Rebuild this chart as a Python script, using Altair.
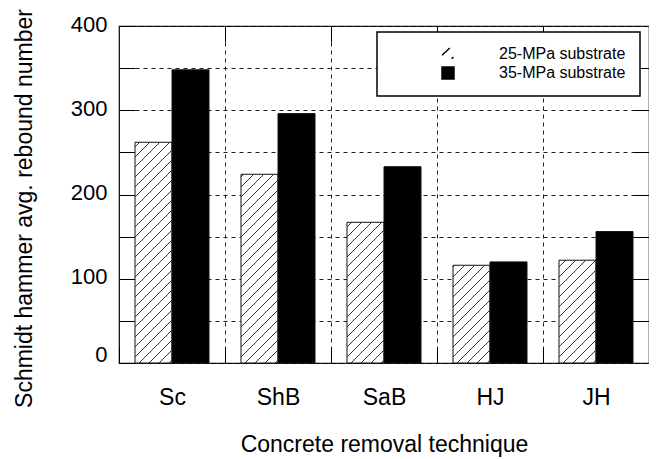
import altair as alt
import pandas as pd

categories = ["Sc", "ShB", "SaB", "HJ", "JH"]
series_names = ["25-MPa substrate", "35-MPa substrate"]
values_25 = [262, 224, 167, 116, 122]
values_35 = [348, 296, 233, 120, 156]
y_tick_values = [0, 50, 100, 150, 200, 250, 300, 350, 400]
inner_y_ticks = [50, 100, 150, 200, 250, 300, 350]
boundary_ticks = [1, 2, 3, 4]

# layout / style constants
W, H = 530, 337
Y_MAX = 400
P_OUT = 16 / 37
HATCH_SP = 10
FONT = "Liberation Sans"
HATCH_PATH = "M-1,0.2L0.3,-1M0.6,0.8L0.9,0.5"

rows = []
for i, c in enumerate(categories):
    rows.append({"cat": c, "series": series_names[0], "value": values_25[i]})
    rows.append({"cat": c, "series": series_names[1], "value": values_35[i]})
df = pd.DataFrame(rows)

# hatch segments for the 25-MPa bars, derived from their values
band_px = W / len(categories)
step_px = band_px / (2 + 2 * P_OUT)
px_per_y = H / Y_MAX
hatch = []
for i, v in enumerate(values_25):
    L = i * band_px + P_OUT * step_px
    R = L + step_px
    h = v * px_per_y
    c = -(R - L) + 3
    while c < h:
        xs = max(L, L - c)
        xe = min(R, L + h - c)
        if xe - xs > 0.5:
            hatch.append({
                "x": xs / band_px, "x2": xe / band_px,
                "y": (xs - L + c) / px_per_y, "y2": (xe - L + c) / px_per_y,
            })
        c += HATCH_SP
hatch_df = pd.DataFrame(hatch)

legend = alt.Legend(
    title=None, orient="none", legendX=258, legendY=6,
    fillColor="white", strokeColor="black",
    padding=14, rowPadding=2,
    symbolOffset=49, labelOffset=43,
    labelFont=FONT, labelFontSize=16, labelColor="black",
    symbolSize=144, symbolOpacity=1, symbolStrokeWidth=1.5,
)
fill_scale = alt.Scale(domain=series_names, range=["white", "black"])
stroke_scale = alt.Scale(domain=series_names, range=["black", "black"])
y_scale = alt.Scale(domain=[0, Y_MAX], nice=False, zero=True)

bars = alt.Chart(df).mark_bar(stroke="#111", strokeWidth=1).encode(
    x=alt.X("cat:N", sort=categories,
            scale=alt.Scale(paddingInner=0, paddingOuter=0),
            axis=alt.Axis(orient="bottom", title="Concrete removal technique",
                          labelAngle=0, tickBand="extent", offset=-16, tickSize=16,
                          tickColor="black", domain=False, grid=True,
                          gridDash=[4, 4], gridColor="#222", gridWidth=1,
                          labelFont=FONT, labelFontSize=23, labelColor="black",
                          labelPadding=23, titleFont=FONT, titleFontSize=23,
                          titleFontWeight="normal", titleColor="black",
                          titlePadding=24)),
    xOffset=alt.XOffset("series:N", sort=series_names,
                        scale=alt.Scale(paddingOuter=P_OUT, paddingInner=0)),
    y=alt.Y("value:Q", scale=y_scale,
            axis=alt.Axis(orient="left", values=y_tick_values,
                          labelExpr="datum.value % 100 == 0 ? datum.label : ''",
                          labelOffset={"condition": {"test": "datum.value == 0", "value": -9},
                                       "value": -2},
                          offset=-16, tickSize=16, tickColor="black",
                          domain=False, grid=True, gridDash=[4, 4],
                          gridColor="#222", gridWidth=1,
                          labelFont=FONT, labelFontSize=22, labelColor="black",
                          labelPadding=12,
                          title="Schmidt hammer avg. rebound number",
                          titleFont=FONT, titleFontSize=23, titleFontWeight="normal",
                          titleColor="black", titlePadding=34, titleY=182)),
    fill=alt.Fill("series:N", scale=fill_scale, legend=legend),
)

hatch_layer = alt.Chart(hatch_df).mark_rule(color="#333", strokeWidth=1).encode(
    x=alt.X("x:Q", scale=alt.Scale(domain=[0, len(categories)], nice=False, zero=False),
            axis=alt.Axis(orient="top", offset=-16, tickSize=16, values=boundary_ticks,
                          labels=False, grid=False, domain=False, title=None,
                          tickColor="black")),
    x2="x2:Q",
    y=alt.Y("y:Q", scale=y_scale,
            axis=alt.Axis(orient="right", offset=-16, tickSize=16, values=inner_y_ticks,
                          labels=False, grid=False, domain=False, title=None,
                          tickColor="black")),
    y2="y2:Q",
)

legend_pts = alt.Chart(df).mark_point(size=0, filled=True, opacity=1).encode(
    x=alt.X("cat:N", sort=categories, axis=None),
    y=alt.Y("value:Q", scale=y_scale, axis=None),
    fill=alt.Fill("series:N", scale=fill_scale, legend=legend),
    stroke=alt.Stroke("series:N", scale=stroke_scale, legend=legend),
    shape=alt.Shape("series:N",
                    scale=alt.Scale(domain=series_names, range=[HATCH_PATH, "square"]),
                    legend=legend),
)

chart = alt.layer(bars, hatch_layer, legend_pts).resolve_scale(
    x="independent"
).resolve_axis(
    x="independent", y="independent"
).properties(
    width=W, height=H,
    background="white",
    autosize=alt.AutoSizeParams(type="none"),
    padding={"left": 111, "top": 18, "right": 0, "bottom": 94},
).configure_view(
    stroke="black", strokeWidth=1.2
).configure_legend(
    strokeWidth=1.5
)

chart.save("out.html", embed_options={"renderer": "svg", "actions": False})
